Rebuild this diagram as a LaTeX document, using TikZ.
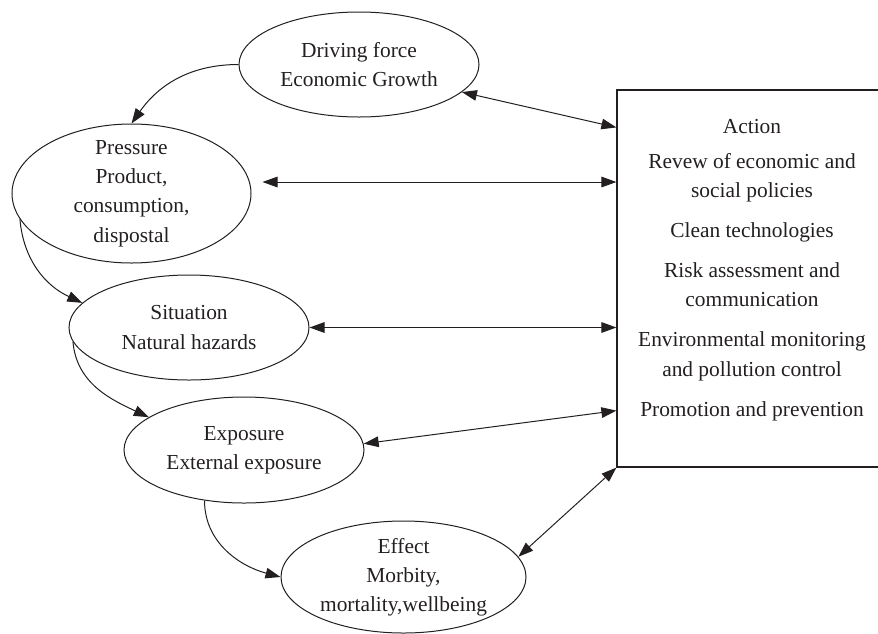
\documentclass[tikz,border=0pt]{standalone}
\usepackage{fontspec}
\setmainfont{Liberation Serif}
\usepackage{tikz}
\usetikzlibrary{arrows.meta}
\usetikzlibrary{shapes.geometric}
\usetikzlibrary{calc}
\definecolor{inkblk}{RGB}{35,31,32}
\newcommand{\figfont}{\fontsize{10.7pt}{14.6pt}\selectfont}

\begin{document}
\begin{tikzpicture}[x=0.5pt,y=-0.5pt]
		\tikzset{>={Triangle[length=7.5pt,width=5.3pt]}}
		\tikzset{ellip/.style={draw=inkblk,line width=0.5pt,ellipse,inner xsep=0pt,inner ysep=-6pt,align=center,font=\figfont,text=inkblk},
			actbox/.style={draw=inkblk,line width=0.6pt,rectangle,inner sep=0pt,minimum width=136.5pt,minimum height=188.5pt},
			flow/.style={->,draw=inkblk,line width=0.5pt},
			dbl/.style={<->,draw=inkblk,line width=0.5pt}}
		\useasboundingbox (0,0) rectangle (878,633);
		
		\node[ellip,minimum width=120pt,minimum height=52.5pt] (drive) at (359,64.5) {Driving force\\Economic Growth};
		\node[ellip,minimum width=119.5pt,minimum height=69.5pt] (press) at (131.5,193.5) {Pressure\\Product,\\consumption,\\dispostal};
		\node[ellip,minimum width=120pt,minimum height=52.5pt] (sit) at (189,327.5) {Situation\\Natural hazards};
		\node[ellip,minimum width=120pt,minimum height=53pt] (expo) at (244,450) {Exposure\\External exposure};
		\node[ellip,minimum width=122.5pt,minimum height=56pt] (effect) at (403.5,577) {Effect\\Morbity,\\mortality,wellbeing};
		
		\node[actbox] (action) at (753.5,278.5) {};
		\node[align=center,font=\figfont,text=inkblk] (acttext) at (752,270) {Action\\[2.9pt]
			Revew of economic and\\social policies\\[5.4pt]
			Clean technologies\\[5.4pt]
			Risk assessment and\\communication\\[5.4pt]
			Environmental monitoring\\and pollution control\\[5.4pt]
			Promotion and prevention};
		
		\draw[flow] (drive.west) to[out=180,in=55] (press.north);
		\draw[flow] (press.193) to[out=-85,in=155] (sit.167);
		\draw[flow] (sit.187) to[out=-85,in=155] (expo.161);
		\draw[flow] (expo.232) to[out=-90,in=165] (effect.west);
		
		\coordinate (p1) at ([xshift=5.5pt,yshift=5.75pt]press.east);
		\draw[dbl] (drive.-15) -- ([yshift=-19pt]action.north west);
		\draw[dbl] (p1) -- (p1 -| action.west);
		\draw[dbl] (sit.east) -- (sit.east -| action.west);
		\draw[dbl] (expo.3) -- ([yshift=28.5pt]action.south west);
		\draw[dbl] (effect.10) -- (action.south west);
		
\end{tikzpicture}
\end{document}
